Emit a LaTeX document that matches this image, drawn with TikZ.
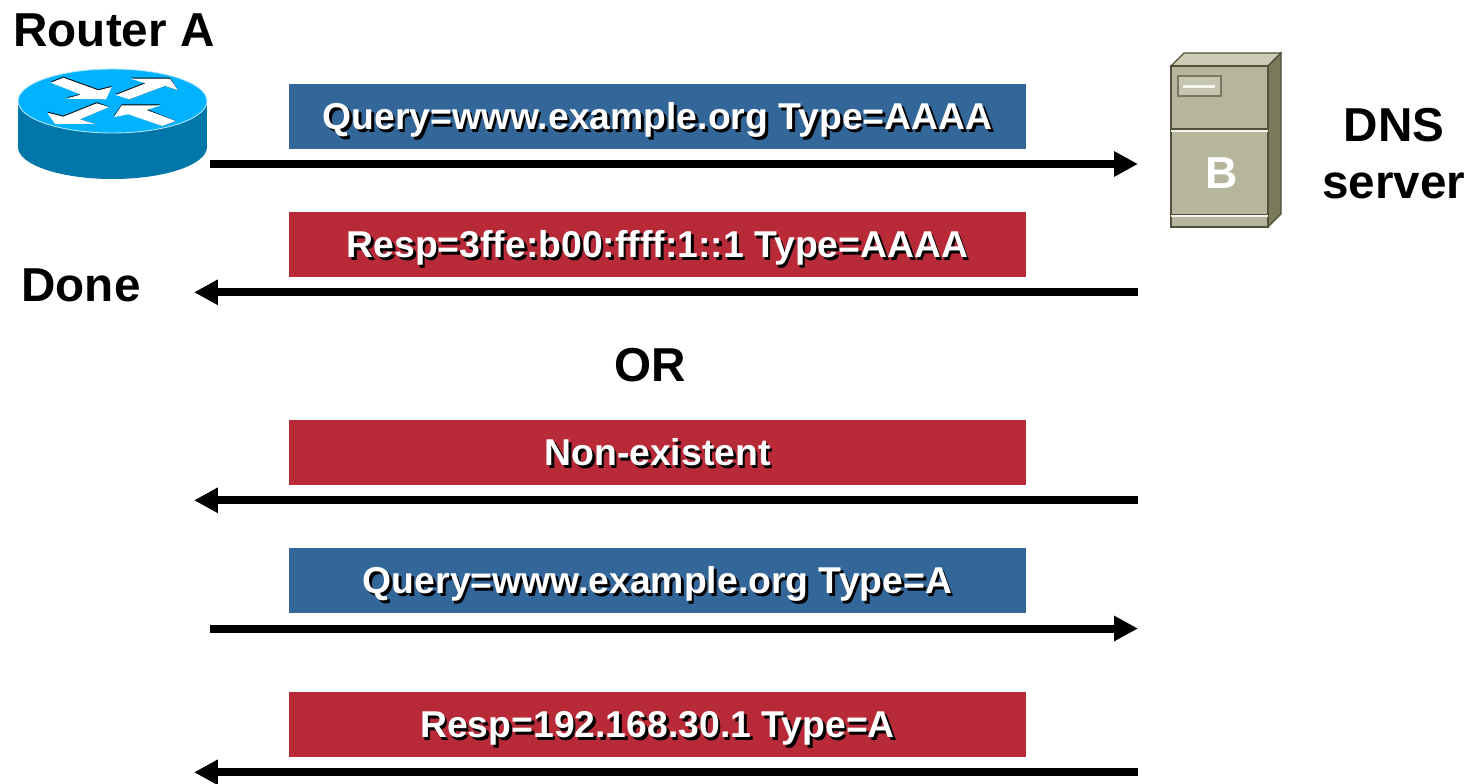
\documentclass[tikz,border=0pt]{standalone}
\usepackage{fontspec}
\setmainfont{Liberation Sans}
\usetikzlibrary{arrows.meta}
\definecolor{msgblue}{RGB}{51,102,153}
\definecolor{msgred}{RGB}{184,42,56}
\definecolor{routertop}{RGB}{0,178,255}
\definecolor{routerside}{RGB}{0,119,168}
\definecolor{serverfront}{RGB}{182,182,156}
\definecolor{servertop}{RGB}{204,204,182}
\definecolor{serverside}{RGB}{122,122,90}
\definecolor{serverline}{RGB}{80,80,60}
\newcommand{\shadowtext}[1]{\rlap{\kern1.5pt\raisebox{-1.5pt}{\textcolor{black}{#1}}}#1}
\tikzset{
    title/.style={font=\fontsize{27.1}{30}\selectfont\bfseries,align=center,inner sep=0pt},
    msg/.style={minimum width=14.74cm,minimum height=1.3cm,inner sep=0pt,text=white,text height=15.2pt,text depth=0pt,font=\fontsize{21.25}{24}\selectfont\bfseries},
    msgb/.style={msg,fill=msgblue},
    msgr/.style={msg,fill=msgred},
    flow/.style={line width=0.16cm,-{Triangle[length=0.48cm,width=0.48cm]}},
    pil/.style={fill=white,draw=none},
    pilshade/.style={fill=black,draw=none},
    serveredge/.style={draw=serverline,line width=0.7pt},
}
\begin{document}
\begin{tikzpicture}[x=0.02cm,y=-0.02cm]
    \useasboundingbox (0,0) rectangle (1468,784);
    %Router
        \fill[routerside] (18,101) rectangle (207,147);
        \fill[routerside] (112.5,147) ellipse (94.5 and 32);
        \filldraw[fill=routertop,draw=white!70!routertop,line width=0.5pt] (112.5,101) ellipse (94.5 and 32);
        %Piler
        \fill[pilshade] (50.7,81.7)--(63.3,76.7)--(98.3,89.3)--(111.7,86)--(106,98.3)--(66,97.7)--(81,94)--cycle;
        \fill[pil] (50.7,82.7)--(63.3,77.7)--(98.3,90.3)--(111.7,87)--(106,99.3)--(66,98.7)--(81,94.5)--cycle;
        \fill[pilshade] (115.7,94)--(145.7,82.3)--(130.7,77.7)--(170,77.7)--(177.7,90)--(165,86)--(129.3,99.3)--cycle;
        \fill[pil] (115.7,95)--(145.7,83.3)--(130.7,78.7)--(170,78.7)--(177.7,90)--(165,86)--(129.3,99.3)--cycle;
        \fill[pilshade] (96.7,102.3)--(109.3,106.7)--(80,119.3)--(95,124)--(55,124)--(47.3,111.7)--(63.3,115.7)--cycle;
        \fill[pil] (96.7,103.3)--(109.3,107)--(80,119.3)--(95,124)--(55,124)--(47.3,112.7)--(63.3,116.7)--cycle;
        \fill[pilshade] (175.7,121)--(162.3,126)--(128.3,113.3)--(114,116)--(121.7,104.3)--(161,104.3)--(146.7,109)--cycle;
        \fill[pil] (175.7,121)--(162.3,126)--(128.3,114.3)--(114,117)--(121.7,105.3)--(161,105.3)--(146.7,110)--cycle;
    %Server
        \filldraw[fill=servertop,serveredge] (1171,66)--(1184,53)--(1281,53)--(1268,66)--cycle;
        \filldraw[fill=serverside,serveredge] (1268,66)--(1281,53)--(1281,214)--(1268,227)--cycle;
        \filldraw[fill=serverfront,serveredge] (1171,66) rectangle (1268,227);
        \draw[serverline,line width=1.1pt] (1171,129) -- (1268,129);
        \draw[white!85!serverfront,line width=0.7pt] (1171,131) -- (1268,131);
        \draw[serverline,line width=0.9pt] (1171,214.5) -- (1268,214.5);
        \draw[white!85!serverfront,line width=0.6pt] (1171,216) -- (1268,216);
        \filldraw[fill=white!20!serverfront,draw=serverline!60!serverfront,line width=0.8pt] (1178,76) rectangle (1221,96);
        \draw[white!85!serverfront,line width=1.3pt] (1183,86.5) -- (1215,86.5);
    %Tekst
        \node[title] (routerlabel) at (114,30) {Router A};
        \node[title] (donelabel) at (81,285) {Done};
        \node[title] (orlabel) at (650,365) {OR};
        \node[title] (dnslabel) at (1394,153.5) {DNS\\[2.4pt]server};
        \node[title,text=white,font=\fontsize{25.5}{28}\selectfont\bfseries] (serverb) at (1222,173) {B};
    %Meldinger
        \node[msgb] (qaaaa) at (657.5,116.5) {\shadowtext{Query=www.example.org Type=AAAA}};
        \node[msgr] (raaaa) at (657.5,244.5) {\shadowtext{Resp=3ffe:b00:ffff:1::1 Type=AAAA}};
        \node[msgr] (nonex) at (657.5,452.5) {\shadowtext{Non-existent}};
        \node[msgb] (qa) at (657.5,580.5) {\shadowtext{Query=www.example.org Type=A}};
        \node[msgr] (ra) at (657.5,724.5) {\shadowtext{Resp=192.168.30.1 Type=A}};
    %Piler mellom A og B
        \coordinate (a1) at (210,164);
        \coordinate (b1) at (1138,164);
        \coordinate (b2) at (1138,292.3);
        \coordinate (a2) at (194,292.3);
        \coordinate (b3) at (1138,500.3);
        \coordinate (a3) at (194,500.3);
        \coordinate (a4) at (210,628.5);
        \coordinate (b4) at (1138,628.5);
        \coordinate (b5) at (1138,772.3);
        \coordinate (a5) at (194,772.3);
        \draw[flow] (a1)--(b1);
        \draw[flow] (b2)--(a2);
        \draw[flow] (b3)--(a3);
        \draw[flow] (a4)--(b4);
        \draw[flow] (b5)--(a5);
\end{tikzpicture}
\end{document}
